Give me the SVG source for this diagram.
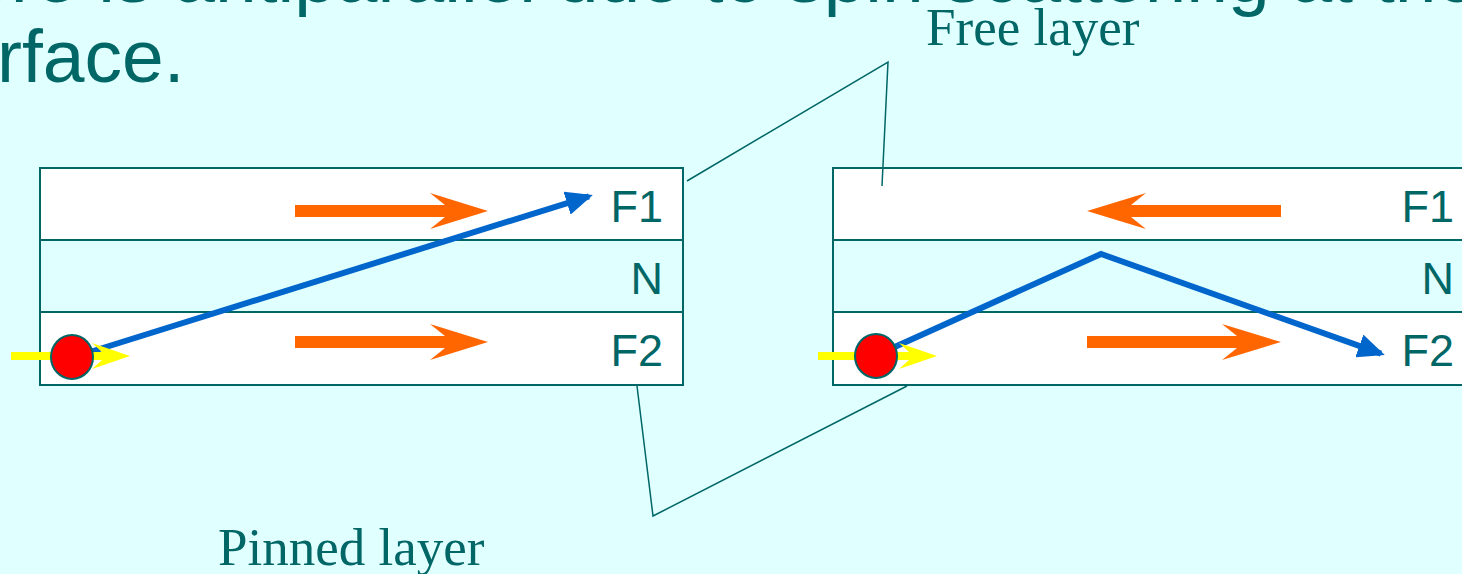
<svg xmlns="http://www.w3.org/2000/svg" width="1462" height="574" viewBox="0 0 1462 574">
  <style>
    .band { fill: #FFFFFF; stroke: #006666; stroke-width: 2; }
    .mid { fill: #E0FFFF; stroke: #006666; stroke-width: 2; }
    .lbl { font-family: "Liberation Sans", Arial, sans-serif; font-size: 45px; fill: #006666; text-anchor: end; }
    .big { font-family: "Liberation Sans", Arial, sans-serif; font-size: 75px; fill: #006666; }
    .cap { font-family: "Liberation Serif", "Times New Roman", serif; font-size: 53px; fill: #006666; }
    .mag { fill: #FF6600; }
    .spin { fill: #FFFF00; }
    .elec { fill: #FF0000; stroke: #006666; stroke-width: 2; }
    .path { fill: none; stroke: #0066CC; stroke-width: 6; stroke-linejoin: miter; }
    .callout { fill: none; stroke: #006666; stroke-width: 1.5; }
  </style>
  <defs>
    <marker id="blueHead" viewBox="0 0 27 24" markerWidth="27" markerHeight="24" refX="23" refY="12" orient="auto" markerUnits="userSpaceOnUse">
      <path d="M0,0 L27,12 L0,24 Z" fill="#0066CC"/>
    </marker>
  </defs>
  <rect x="0" y="0" width="1462" height="574" fill="#E0FFFF"/>

  <text class="big" x="-31" y="2">ere is antiparallel due to spin scattering at the</text>
  <text class="big" x="-3" y="82">rface.</text>

  <g id="left-stack">
    <rect class="band" x="40" y="168" width="643" height="72"/>
    <rect class="mid" x="40" y="240" width="643" height="72"/>
    <rect class="band" x="40" y="312" width="643" height="73"/>
    <text class="lbl" x="663" y="222">F1</text>
    <text class="lbl" x="663" y="294">N</text>
    <text class="lbl" x="663" y="366">F2</text>
    <polygon class="mag" points="295,205 445,205 430,193 488,211 430,229 445,217 295,217"/>
    <polygon class="mag" points="295,336 445,336 430,324 488,342 430,360 445,348 295,348"/>
    <line class="path" x1="90" y1="352" x2="589" y2="196.3" marker-end="url(#blueHead)"/>
    <polygon class="spin" points="11,352 102,352 92,343 130,356 92,369 102,360 11,360"/>
    <ellipse class="elec" cx="72" cy="357" rx="21" ry="22"/>
  </g>

  <g id="right-stack">
    <rect class="band" x="833" y="168" width="643" height="72"/>
    <rect class="mid" x="833" y="240" width="643" height="72"/>
    <rect class="band" x="833" y="312" width="643" height="73"/>
    <text class="lbl" x="1454" y="222">F1</text>
    <text class="lbl" x="1454" y="294">N</text>
    <text class="lbl" x="1454" y="366">F2</text>
    <polygon class="mag" points="1281,205 1131,205 1146,193 1087,211 1146,229 1131,217 1281,217"/>
    <polygon class="mag" points="1087,336 1237,336 1222,324 1281,342 1222,360 1237,348 1087,348"/>
    <polyline class="path" points="888,350 1101,254 1381,353.6" marker-end="url(#blueHead)"/>
    <polygon class="spin" points="818,352 909,352 899,343 937,356 899,369 909,360 818,360"/>
    <ellipse class="elec" cx="876" cy="356" rx="21" ry="22"/>
  </g>

  <g id="free-layer-label">
    <text class="cap" x="926" y="45">Free layer</text>
  </g>
  <g id="pinned-layer-label">
    <text class="cap" x="218" y="565">Pinned layer</text>
  </g>

  <g id="connectors">
    <polyline class="callout" points="687,181 888,62 882,186"/>
    <polyline class="callout" points="637,386 653,516 907,386"/>
  </g>
</svg>
